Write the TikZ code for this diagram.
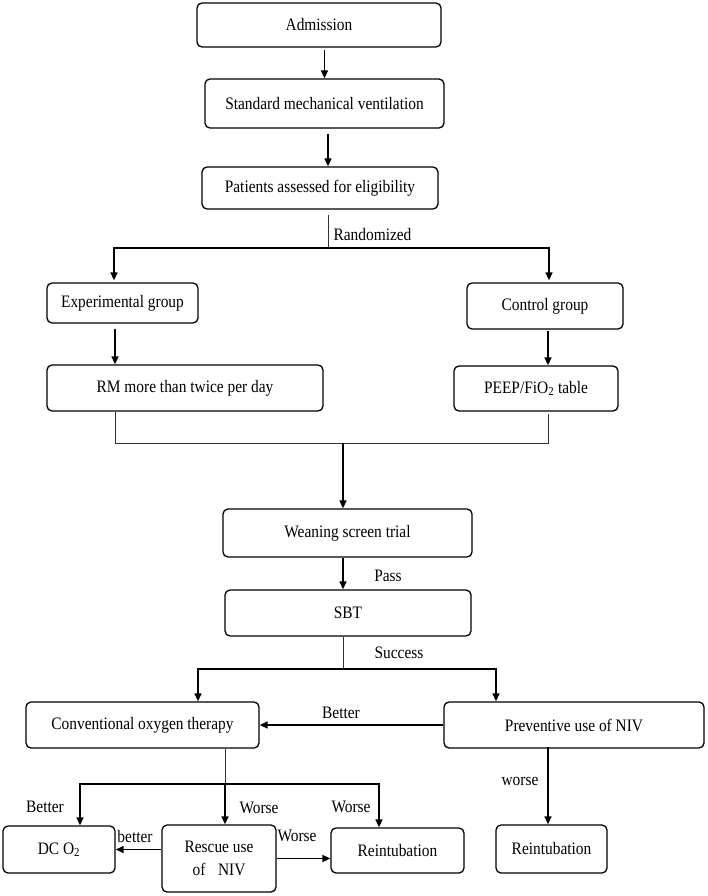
\documentclass[tikz,border=0pt]{standalone}
\usepackage{fontspec}
\setmainfont[FakeStretch=0.88]{Liberation Serif}
\usetikzlibrary{arrows.meta,calc}
\newcommand\myfs{\fontsize{17.5pt}{23pt}\selectfont}
\begin{document}
\begin{tikzpicture}[x=1pt,y=-1pt,
  box/.style={draw, rounded corners=5pt, line width=1.3pt, inner sep=0pt, align=center, font=\myfs},
  lbl/.style={inner sep=0pt, font=\myfs},
  arr/.style={line width=1.4pt, -{Triangle[length=8pt,width=7pt]}},
  ln/.style={line width=1pt, draw=black!80}]
\useasboundingbox (0,0) rectangle (708,896);

% boxes
\node[box, minimum width=244pt, minimum height=44pt] (adm) at (319,25) {Admission};
\node[box, minimum width=239pt, minimum height=49pt] (smv) at (324.5,103.5) {Standard mechanical ventilation};
\node[box, minimum width=236pt, minimum height=42pt] (pat) at (320,188) {Patients assessed for eligibility};
\node[box, minimum width=151pt, minimum height=40pt] (exp) at (122.5,303) {Experimental group};
\node[box, minimum width=156pt, minimum height=46pt] (ctl) at (545,306) {Control group};
\node[box, minimum width=276pt, minimum height=46pt] (rm) at (185,388) {RM more than twice per day};
\node[box, minimum width=164pt, minimum height=45pt] (peep) at (536,388.5) {PEEP/FiO\textsubscript{2} table};
\node[box, minimum width=249pt, minimum height=48pt] (wean) at (347.5,533) {Weaning screen trial};
\node[box, minimum width=246pt, minimum height=46pt] (sbt) at (348,613) {SBT};
\node[box, minimum width=233pt, minimum height=46pt] (cot) at (142.5,725) {Conventional oxygen therapy};
\node[box, minimum width=260pt, minimum height=46pt] (pniv) at (574,725) {Preventive use of NIV};
\node[box, minimum width=112pt, minimum height=47pt] (dco) at (59,849.5) {DC O\textsubscript{2}};
\node[box, minimum width=114pt, minimum height=67pt] (rniv) at (219,858.5) {Rescue use\\of\hspace{0.5em} NIV};
\node[box, minimum width=133pt, minimum height=45pt] (reA) at (397.5,850.5) {Reintubation};
\node[box, minimum width=111pt, minimum height=48pt] (reB) at (551.5,849) {Reintubation};

% labels
\node[lbl] (lrand) at (372.5,235) {Randomized};
\node[lbl] (lpass) at (388,576) {Pass};
\node[lbl] (lsucc) at (399,653) {Success};
\node[lbl] (lbet1) at (341,713) {Better};
\node[lbl] (lbet2) at (45,807) {Better};
\node[lbl] (lwor1) at (259,808) {Worse};
\node[lbl] (lwor2) at (351,807) {Worse};
\node[lbl] (lbet3) at (135,837) {better};
\node[lbl] (lwor3) at (297,836) {Worse};
\node[lbl] (lwor4) at (520,781) {worse};

% coordinates
\coordinate (rnd) at (328,248);
\coordinate (join) at (343,443);
\coordinate (succ) at (343,669);
\coordinate (cb) at (225,784);

% connectors
\draw[arr] ($(adm.south -| smv.north)+(0,2)$) -- (smv.north);
\draw[arr] ($(smv.south)+(3.5,5)$) coordinate (s1) -- (s1 |- pat.north);
\draw[ln] ($(pat.south -| rnd)+(0,5)$) -- (rnd);
\draw[arr] (rnd) -| ($(exp.north)+(-8.5,-2)$);
\draw[arr] (rnd) -| ($(ctl.north)+(4,-2)$);
\draw[arr] ($(exp.south)+(-7.5,5)$) coordinate (e1) -- (e1 |- rm.north);
\draw[arr] ($(ctl.south)+(3,1)$) coordinate (c1) -- (c1 |- peep.north);
\draw[ln] (rm.south -| e1) |- (join -| c1) -- ($(peep.south -| c1)+(0,2)$);
\draw[arr] (join) -- (join |- wean.north);
\draw[arr] (wean.south -| join) -- (sbt.north -| join);
\draw[ln] (sbt.south -| succ) -- (succ);
\draw[arr] (succ) -| ($(cot.north)+(55.5,0)$);
\draw[arr] (succ) -| ($(pniv.north)+(-78,0)$);
\draw[arr] (pniv.west) -- (cot.east);
\draw[ln] (cot.south -| cb) -- (cb);
\draw[arr] (cb) -- (cb |- rniv.north);
\draw[arr] (cb) -| ($(dco.north)+(21,0)$);
\draw[arr] (cb) -| ($(reA.north)+(-18.5,0)$);
\draw[arr] (rniv.west |- dco.east) -- (dco.east);
\draw[arr, line width=1.7pt] (rniv.east) -- (rniv.east -| reA.west);
\draw[arr] ($(reB.north)+(-3.5,-77)$) coordinate (p1) -- (p1 |- reB.north);
\end{tikzpicture}
\end{document}
